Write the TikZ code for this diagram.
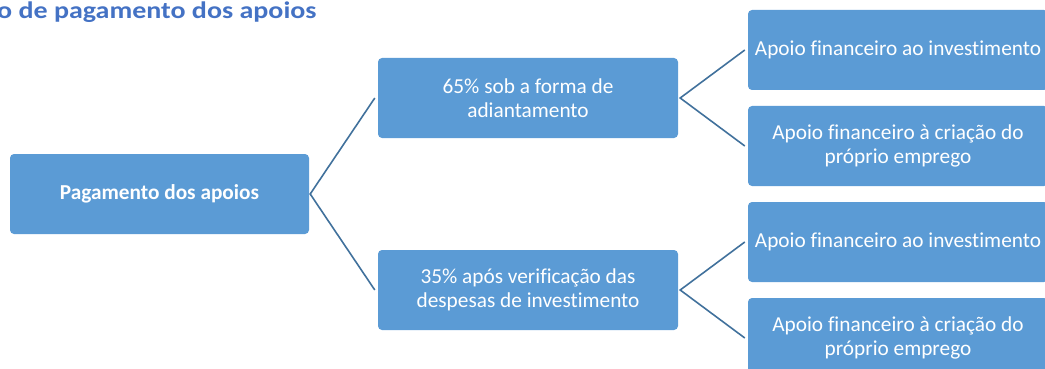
\documentclass[tikz,border=0pt]{standalone}
\usepackage{fontspec}
\setmainfont{Carlito}[Ligatures=NoCommon]
\definecolor{boxblue}{HTML}{5B9BD5}
\definecolor{lineblue}{HTML}{41719C}
\definecolor{titleblue}{HTML}{4472C4}
\begin{document}
\begin{tikzpicture}[x=1pt,y=-1pt,
  box/.style={fill=boxblue,draw=none,rounded corners=4pt,minimum width=300pt,minimum height=80pt,
    text=white,align=center,inner sep=0pt,font=\fontsize{21.3}{24.5}\selectfont},
  link/.style={draw=lineblue,line width=1.6pt}]
\useasboundingbox (0,0) rectangle (1045,369);
\clip (0,0) rectangle (1045,369);
\node[anchor=base west,text=titleblue,font=\fontsize{28}{32}\selectfont\bfseries,inner sep=0pt] (title) at (-3,18.5) {\scalebox{1}[0.85]{o de pagamento dos apoios}};
\node[box,minimum width=299pt,font=\fontsize{21.3}{24.5}\selectfont\bfseries] (root) at (159.5,194) {Pagamento dos apoios};
\node[box] (m1) at (528,98) {65\% sob a forma de\\adiantamento};
\node[box] (m2) at (528,290) {35\% após verificação das\\despesas de investimento};
\node[box] (r1) at (898,50) {Apoio financeiro ao investimento};
\node[box] (r2) at (898,146) {Apoio financeiro à criação do\\próprio emprego};
\node[box] (r3) at (898,242) {Apoio financeiro ao investimento};
\node[box] (r4) at (898,338) {Apoio financeiro à criação do\\próprio emprego};
\draw[link] ([xshift=-3pt]m1.west) -- ([xshift=1pt]root.east) -- ([xshift=-3pt]m2.west);
\draw[link] ([xshift=-3pt]r1.west) -- ([xshift=2pt]m1.east) -- ([xshift=-3pt]r2.west);
\draw[link] ([xshift=-3pt]r3.west) -- ([xshift=2pt]m2.east) -- ([xshift=-3pt]r4.west);
\end{tikzpicture}
\end{document}
